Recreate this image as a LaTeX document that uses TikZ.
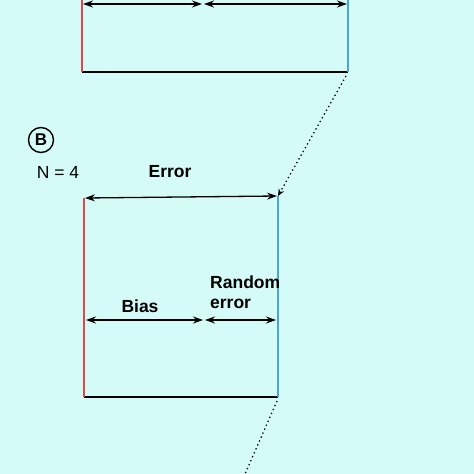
\documentclass[tikz,border=0pt]{standalone}
\usepackage{fontspec}
\setmainfont{Liberation Sans}
\usetikzlibrary{arrows.meta}
\definecolor{bg}{HTML}{D5FBF8}
\definecolor{redl}{HTML}{E04848}
\definecolor{bluel}{HTML}{4AA6D6}
\tikzset{
  dim/.style={line width=1.3pt,{Stealth[length=10pt,width=7pt]}-{Stealth[length=10pt,width=7pt]}},
  frameline/.style={line width=1.4pt},
  lbl/.style={font=\fontsize{17.5}{20}\selectfont\bfseries, inner sep=0pt},
  plain/.style={font=\fontsize{17.5}{20}\selectfont, inner sep=0pt},
  dots/.style={line width=1.3pt, dash pattern=on 1.3pt off 3pt}
}
\begin{document}
\begin{tikzpicture}[x=1pt,y=-1pt]
\fill[bg] (0,0) rectangle (474,474);
\useasboundingbox (0,0) rectangle (474,474);
% top panel
\coordinate (a1) at (82,0);
\coordinate (a2) at (82,72);
\coordinate (a3) at (348,72);
\coordinate (a4) at (348,0);
\coordinate (am1) at (83,4);
\coordinate (am2) at (202,4);
\coordinate (am3) at (204,4);
\coordinate (am4) at (347,4);
\draw[frameline] (a2) -- (a3);
\draw[frameline, redl] (a1) -- (a2);
\draw[frameline, bluel] (a4) -- (a3);
\draw[dim] (am1) -- (am2);
\draw[dim] (am3) -- (am4);
% panel B
\node[draw, circle, line width=1.4pt, minimum size=25pt, inner sep=0pt, font=\fontsize{17}{18}\selectfont\bfseries] (B) at (41,140) {B};
\node[plain] (N) at (58,172) {N = 4};
\node[lbl] (err) at (170,172) {Error};
\coordinate (b1) at (84,198);
\coordinate (b2) at (84,397);
\coordinate (b3) at (278,397);
\coordinate (b4) at (278,196);
\draw[frameline] (b2) -- (b3);
\draw[frameline, redl] (b1) -- (b2);
\draw[frameline, bluel] (b4) -- (b3);
\draw[dim] (85,198) -- (277,196);
\coordinate (bm1) at (86,320);
\coordinate (bm2) at (203,320);
\coordinate (bm3) at (205,320);
\coordinate (bm4) at (276,320);
\draw[dim] (bm1) -- (bm2);
\draw[dim] (bm3) -- (bm4);
\node[lbl] (bias) at (140,306) {Bias};
\node[lbl, align=left, anchor=north west] (re) at (210,276) {Random\\error};
% dotted connectors
\coordinate (d1) at (346,76);
\draw[dots, -{Stealth[length=7pt,width=6pt]}] (d1) -- (b4);
\coordinate (d2) at (245,474);
\draw[dots] (277,401) -- (d2);
\end{tikzpicture}
\end{document}
